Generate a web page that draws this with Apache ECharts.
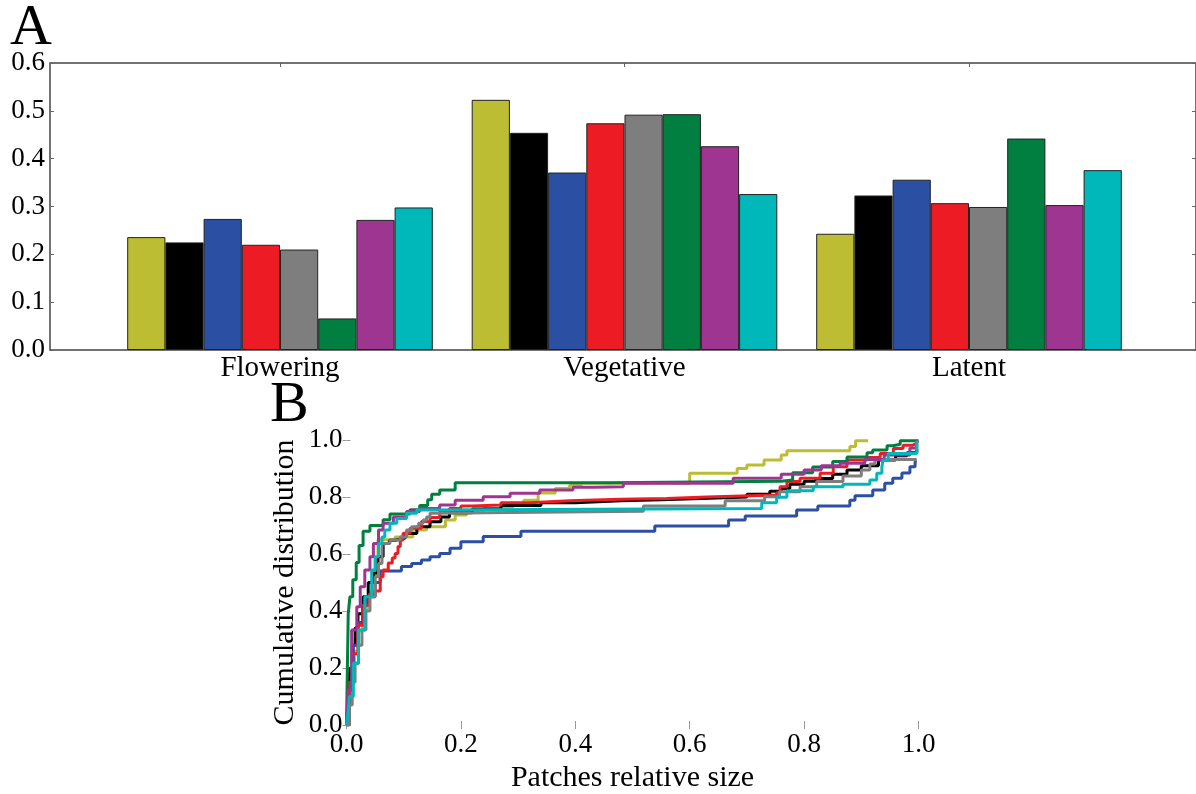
<!DOCTYPE html>
<html><head><meta charset="utf-8">
<script src="https://cdn.jsdelivr.net/npm/echarts@6/dist/echarts.min.js"></script>
<style>html,body{margin:0;padding:0;background:#fff}#c{width:1196px;height:794px}</style>
</head><body><div id="c"></div>
<script>
// ---------- Panel A data ----------
const categories = ['Flowering', 'Vegetative', 'Latent'];
const seriesNames = ['olive', 'black', 'blue', 'red', 'gray', 'green', 'purple', 'cyan'];
const seriesColors = ['#BCBD32', '#000000', '#2B4FA3', '#ED1C24', '#7D7E7D', '#007F41', '#9E3591', '#00B7BA'];
const oliveBars  = [0.236, 0.523, 0.243];
const blackBars  = [0.225, 0.454, 0.323];
const blueBars   = [0.274, 0.371, 0.356];
const redBars    = [0.220, 0.474, 0.307];
const grayBars   = [0.210, 0.492, 0.299];
const greenBars  = [0.066, 0.493, 0.442];
const purpleBars = [0.272, 0.426, 0.303];
const cyanBars   = [0.298, 0.326, 0.376];
const barValues = [oliveBars, blackBars, blueBars, redBars, grayBars, greenBars, purpleBars, cyanBars];

// ---------- Panel B data (empirical CDFs: [relative size, cumulative]) ----------
const oliveCdf = [[0,0],[0.004,0.08],[0.008,0.16],[0.014,0.26],[0.02,0.33],[0.028,0.40],[0.036,0.45],[0.043,0.47],[0.05,0.53],[0.055,0.65],[0.085,0.66],[0.116,0.684],[0.14,0.696],[0.173,0.719],[0.19,0.737],[0.21,0.749],[0.239,0.76],[0.29,0.772],[0.31,0.789],[0.335,0.814],[0.365,0.83],[0.39,0.84],[0.41,0.848],[0.6,0.883],[0.683,0.90],[0.70,0.912],[0.73,0.93],[0.76,0.947],[0.77,0.962],[0.88,0.977],[0.89,0.997],[0.912,0.997]];
const blackCdf = [[0,0],[0.003,0.10],[0.006,0.20],[0.01,0.28],[0.015,0.34],[0.02,0.39],[0.029,0.45],[0.038,0.50],[0.047,0.533],[0.055,0.59],[0.064,0.637],[0.075,0.648],[0.085,0.655],[0.102,0.672],[0.123,0.696],[0.146,0.713],[0.165,0.73],[0.18,0.745],[0.22,0.758],[0.27,0.77],[0.34,0.78],[0.40,0.787],[0.48,0.79],[0.55,0.795],[0.62,0.80],[0.70,0.81],[0.74,0.82],[0.76,0.83],[0.775,0.845],[0.80,0.855],[0.82,0.865],[0.85,0.88],[0.875,0.895],[0.90,0.91],[0.93,0.93],[0.96,0.945],[0.98,0.955],[0.997,0.97]];
const blueCdf = [[0,0],[0.005,0.15],[0.012,0.28],[0.02,0.36],[0.028,0.42],[0.036,0.45],[0.05,0.50],[0.059,0.54],[0.096,0.556],[0.114,0.567],[0.131,0.579],[0.146,0.59],[0.163,0.602],[0.181,0.62],[0.20,0.643],[0.239,0.661],[0.305,0.68],[0.539,0.698],[0.668,0.719],[0.697,0.733],[0.787,0.754],[0.824,0.768],[0.88,0.789],[0.889,0.804],[0.92,0.825],[0.941,0.848],[0.955,0.866],[0.971,0.884],[0.985,0.906],[0.994,0.924],[0.997,0.924]];
const redCdf = [[0,0],[0.005,0.15],[0.01,0.25],[0.02,0.35],[0.03,0.42],[0.04,0.46],[0.05,0.47],[0.059,0.52],[0.064,0.544],[0.073,0.568],[0.08,0.586],[0.085,0.602],[0.09,0.626],[0.094,0.649],[0.099,0.673],[0.111,0.69],[0.131,0.714],[0.146,0.728],[0.163,0.749],[0.18,0.76],[0.20,0.768],[0.22,0.772],[0.27,0.78],[0.32,0.787],[0.39,0.792],[0.479,0.795],[0.56,0.80],[0.63,0.807],[0.752,0.815],[0.758,0.836],[0.77,0.854],[0.793,0.866],[0.828,0.883],[0.851,0.906],[0.875,0.93],[0.91,0.939],[0.933,0.953],[0.956,0.97],[0.973,0.982],[0.99,0.988],[0.997,0.988]];
const grayCdf = [[0,0],[0.005,0.07],[0.01,0.15],[0.015,0.217],[0.021,0.28],[0.027,0.333],[0.034,0.40],[0.041,0.45],[0.05,0.52],[0.056,0.567],[0.062,0.637],[0.076,0.649],[0.094,0.66],[0.105,0.684],[0.114,0.696],[0.126,0.708],[0.134,0.719],[0.14,0.73],[0.146,0.743],[0.151,0.75],[0.519,0.768],[0.662,0.787],[0.731,0.801],[0.757,0.818],[0.793,0.836],[0.822,0.854],[0.868,0.874],[0.90,0.895],[0.915,0.916],[0.924,0.932],[0.997,0.932]];
const greenCdf = [[0,0],[0.003,0.39],[0.006,0.45],[0.011,0.51],[0.017,0.57],[0.022,0.63],[0.029,0.68],[0.041,0.70],[0.064,0.72],[0.076,0.74],[0.111,0.755],[0.128,0.77],[0.142,0.79],[0.149,0.81],[0.163,0.825],[0.19,0.85],[0.46,0.855],[0.76,0.86],[0.78,0.885],[0.815,0.905],[0.85,0.925],[0.875,0.94],[0.91,0.955],[0.92,0.965],[0.945,0.98],[0.955,0.985],[0.968,0.997],[1.0,0.997]];
const purpleCdf = [[0,0],[0.003,0.123],[0.009,0.333],[0.018,0.415],[0.024,0.485],[0.032,0.544],[0.041,0.59],[0.047,0.637],[0.056,0.684],[0.064,0.708],[0.082,0.73],[0.105,0.749],[0.128,0.76],[0.163,0.772],[0.19,0.789],[0.239,0.801],[0.286,0.813],[0.338,0.825],[0.396,0.834],[0.434,0.836],[0.484,0.848],[0.676,0.866],[0.76,0.88],[0.80,0.895],[0.83,0.91],[0.863,0.918],[0.906,0.932],[0.94,0.947],[0.985,0.972],[0.997,0.994],[1.0,0.997]];
const cyanCdf = [[0,0],[0.003,0.05],[0.005,0.10],[0.012,0.217],[0.021,0.333],[0.032,0.45],[0.044,0.544],[0.05,0.59],[0.056,0.637],[0.062,0.66],[0.067,0.684],[0.076,0.708],[0.088,0.725],[0.105,0.743],[0.123,0.754],[0.14,0.76],[0.726,0.78],[0.752,0.799],[0.77,0.822],[0.816,0.836],[0.868,0.845],[0.915,0.86],[0.927,0.883],[0.936,0.906],[0.938,0.93],[0.947,0.953],[0.997,0.997]];
const cdfValues = [oliveCdf, blackCdf, blueCdf, redCdf, grayCdf, greenCdf, purpleCdf, cyanCdf];

const FONT = '"Liberation Serif", "DejaVu Serif", serif';
const fmt1 = v => Number(v).toFixed(1);

const chart = echarts.init(document.getElementById('c'), null, {renderer: 'canvas'});

const series = [];
barValues.forEach((vals, i) => {
  series.push({
    name: seriesNames[i], type: 'bar', xAxisIndex: 1, yAxisIndex: 2,
    data: vals, barWidth: 38.2, barGap: '0%',
    itemStyle: {color: seriesColors[i], borderColor: '#222', borderWidth: 1}
  });
});
cdfValues.forEach((pts, i) => {
  series.push({
    name: seriesNames[i] + ' CDF', type: 'line', xAxisIndex: 3, yAxisIndex: 3,
    data: pts, step: 'end', showSymbol: false, symbol: 'none',
    lineStyle: {color: seriesColors[i], width: 3}, z: 3 + i
  });
});

const tickSoft = {show: true, inside: true, length: 4, lineStyle: {color: '#999', width: 1}};

chart.setOption({
  animation: false,
  backgroundColor: '#fff',
  textStyle: {fontFamily: FONT},
  grid: [
    {left: 50, top: 63, right: -1, height: 287, show: true, borderColor: '#444', borderWidth: 1.5, backgroundColor: 'transparent'},
    {left: 107.75, top: 63, width: 1033.5, height: 287},
    {left: 346.5, top: 440, width: 572, height: 285}
  ],
  xAxis: [
    {gridIndex: 0, type: 'value', min: 0, max: 1, show: false},
    {gridIndex: 1, type: 'category', data: categories, position: 'bottom',
     axisLine: {show: false}, axisTick: {show: false},
     axisLabel: {fontFamily: FONT, fontSize: 29, color: '#000', margin: 4}},
    {gridIndex: 1, type: 'category', data: categories, position: 'top',
     axisLine: {show: false}, axisTick: {show: true, inside: true, alignWithLabel: true, length: 4, lineStyle: {color: '#666'}},
     axisLabel: {show: false}},
    {gridIndex: 2, type: 'value', min: 0, max: 1, interval: 0.2, position: 'bottom',
     axisLine: {show: false}, axisTick: tickSoft, splitLine: {show: false},
     axisLabel: {formatter: fmt1, fontFamily: FONT, fontSize: 27, color: '#000', margin: 6},
     name: 'Patches relative size', nameLocation: 'middle', nameGap: 38,
     nameTextStyle: {fontFamily: FONT, fontSize: 30, color: '#000'}},
    {gridIndex: 2, type: 'value', min: 0, max: 1, interval: 0.2, position: 'top',
     axisLine: {show: false}, axisTick: tickSoft, splitLine: {show: false}, axisLabel: {show: false}}
  ],
  yAxis: [
    {gridIndex: 0, type: 'value', min: 0, max: 0.6, interval: 0.1, position: 'left',
     axisLine: {show: false}, axisTick: {show: true, inside: true, length: 4, lineStyle: {color: '#666'}},
     splitLine: {show: false},
     axisLabel: {formatter: fmt1, fontFamily: FONT, fontSize: 27, color: '#000', margin: 5}},
    {gridIndex: 0, type: 'value', min: 0, max: 0.6, interval: 0.1, position: 'right',
     axisLine: {show: false}, axisTick: {show: true, inside: true, length: 4, lineStyle: {color: '#666'}},
     splitLine: {show: false}, axisLabel: {show: false}},
    {gridIndex: 1, type: 'value', min: 0, max: 0.6, show: false},
    {gridIndex: 2, type: 'value', min: 0, max: 1, interval: 0.2, position: 'left',
     axisLine: {show: false}, axisTick: tickSoft, splitLine: {show: false},
     axisLabel: {formatter: fmt1, fontFamily: FONT, fontSize: 27, color: '#000', margin: 4},
     name: 'Cumulative distribution', nameLocation: 'middle', nameRotate: 90, nameGap: 46,
     nameTextStyle: {fontFamily: FONT, fontSize: 30, color: '#000'}},
    {gridIndex: 2, type: 'value', min: 0, max: 1, interval: 0.2, position: 'right',
     axisLine: {show: false}, axisTick: tickSoft, splitLine: {show: false}, axisLabel: {show: false}}
  ],
  graphic: [
    {type: 'text', left: 10, top: 0, style: {text: 'A', font: '58px ' + FONT, fill: '#000'}},
    {type: 'text', left: 270, top: 377, style: {text: 'B', font: '58px ' + FONT, fill: '#000'}}
  ],
  series: series
});
</script></body></html>
